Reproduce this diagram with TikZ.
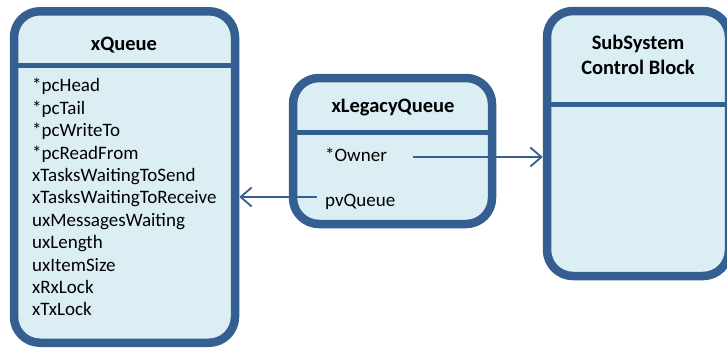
\documentclass[tikz,border=0pt]{standalone}
\usepackage{fontspec}
\setmainfont{Carlito}
\usetikzlibrary{arrows.meta}
\definecolor{bord}{RGB}{54,95,145}
\definecolor{fillb}{RGB}{219,238,244}
\tikzset{
  box/.style={draw=bord, fill=fillb, line width=8.5pt, rounded corners=26pt, inner sep=0pt},
  divider/.style={draw=bord, line width=5pt},
  ttl/.style={font=\fontsize{20.5}{24.5}\selectfont\bfseries, align=center, inner sep=0pt},
  item/.style={font=\fontsize{19}{22.4}\selectfont, anchor=west, inner sep=0pt, text height=13pt, text depth=4pt},
  arr/.style={draw=bord, line width=1.8pt, -{Straight Barb[length=11pt,width=19pt]}}
}
\begin{document}
\begin{tikzpicture}[x=1pt,y=-1pt]
\useasboundingbox (0,0) rectangle (727,349);
\clip (0,0) rectangle (727,349);
% boxes
\node[box, minimum width=221pt, minimum height=331.5pt] (xq) at (124.5,177) {};
\node[box, minimum width=199pt, minimum height=146pt] (lq) at (392.5,151) {};
\node[box, minimum width=182pt, minimum height=265pt] (sc) at (638,143.5) {};
% dividers
\draw[divider] (14,65) -- (235,65);
\draw[divider] (293,132) -- (492,132);
\draw[divider] (547,104) -- (729,104);
% titles
\node[ttl] (xqt) at (124,45) {xQueue};
\node[ttl] (lqt) at (393,108) {xLegacyQueue};
\node[ttl] (sct) at (638,55) {SubSystem\\Control Block};
% items
\foreach \t [count=\i] in {*pcHead,*pcTail,*pcWriteTo,*pcReadFrom,xTasksWaitingToSend,xTasksWaitingToReceive,uxMessagesWaiting,uxLength,uxItemSize,xRxLock,xTxLock}
  \node[item] (it\i) at (32,{65+22.4*\i}) {\t};
\node[item] (ow) at (325,157) {*Owner};
\node[item] (pv) at (325,202) {pvQueue};
% connectors
\coordinate (owstart) at (413,157);
\coordinate (pvstart) at (317,197);
\draw[arr] (owstart) -- (sc.west |- owstart);
\draw[arr] (pvstart) -- (xq.east |- pvstart);
\end{tikzpicture}
\end{document}
